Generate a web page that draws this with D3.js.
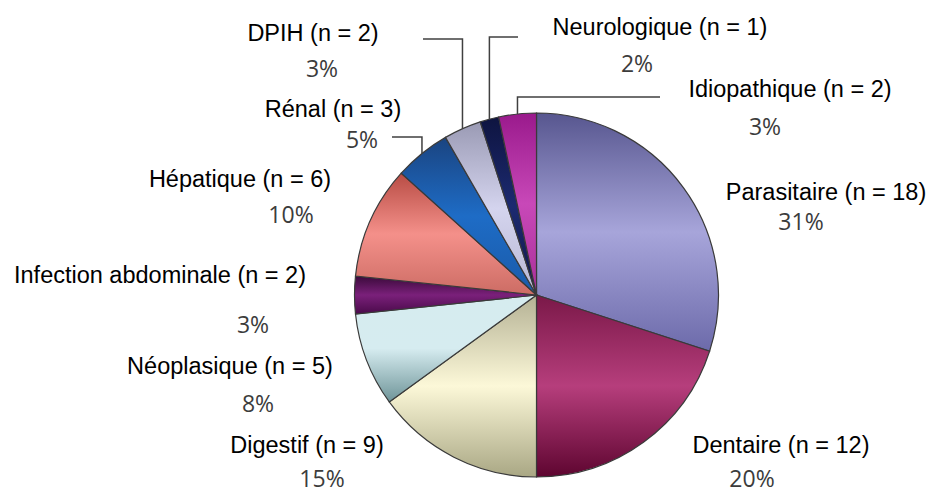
<!DOCTYPE html>
<html>
<head>
<meta charset="utf-8">
<script src="https://cdn.jsdelivr.net/npm/d3@7"></script>
<style>
  body { margin: 0; background: #fff; }
  .name { font-family: "Liberation Sans", Arial, sans-serif; font-size: 23.5px; fill: #000; }
  .pct { font-family: "Open Sans", sans-serif; font-size: 23px; fill: #3c3c3c; }
</style>
</head>
<body>
<div id="chart"></div>
<script>
// data
var categories = ["Parasitaire", "Dentaire", "Digestif", "Néoplasique", "Infection abdominale",
  "Hépatique", "Rénal", "DPIH", "Neurologique", "Idiopathique"];
var counts = [18, 12, 9, 5, 2, 6, 3, 2, 1, 2];
var pctLabels = ["31%", "20%", "15%", "8%", "3%", "10%", "5%", "3%", "2%", "3%"];

// slice shading: top, middle, bottom
var sliceColors = [
  ["#57568f", "#a7a5da", "#6c6aaa"],
  ["#7a1848", "#b63e7c", "#5e0530"],
  ["#b4b194", "#fcf8d8", "#a9a784"],
  ["#d6ecef", "#d6ecf0", "#6e9498"],
  ["#3a0a3a", "#7a207a", "#4a0a4a"],
  ["#b84c44", "#f4908a", "#cc6c64"],
  ["#1a4480", "#1e6cc6", "#1a5aa8"],
  ["#9a9ab4", "#d4d4ee", "#b8b8d4"],
  ["#0e1440", "#1c2a70", "#101848"],
  ["#9a1a8c", "#c848b8", "#a83098"]
];

// label placement: [nameX, nameY, pctX, pctY]
var labelPos = [
  [826, 200, 801, 230],
  [781, 453, 752, 487],
  [307, 453, 322, 487],
  [230, 374, 258, 412],
  [160, 283, 253, 333],
  [240, 187, 291, 223],
  [333, 117, 362, 148],
  [313, 41, 322, 77],
  [660, 35, 637, 72],
  [790, 97, 765, 135]
];
// leader lines for small slices: [slice index, elbow y, end x]
var leaders = [[6, 137, 392], [7, 39, 423], [8, 37, 518], [9, 97, 660]];

var svgWidth = 931;
var svgHeight = 493;
var cx = 536.5, cy = 295, radius = 182;

var svg = d3.select("#chart")
  .append("svg")
  .attr("width", svgWidth)
  .attr("height", svgHeight);

// gradients
var defs = svg.append("defs");
sliceColors.forEach(function(c, i) {
  var g = defs.append("linearGradient")
    .attr("id", "grad" + i)
    .attr("x1", 0).attr("y1", 0).attr("x2", 0).attr("y2", 1);
  g.append("stop").attr("offset", "0%").attr("stop-color", c[0]);
  g.append("stop").attr("offset", "50%").attr("stop-color", c[1]);
  g.append("stop").attr("offset", "100%").attr("stop-color", c[2]);
});

var pie = d3.pie().sort(null).value(d => d);
var arcs = pie(counts);

var arc = d3.arc().innerRadius(0).outerRadius(radius);
var edgeArc = d3.arc().innerRadius(radius).outerRadius(radius);

var pieGroup = svg.append("g")
  .attr("transform", `translate(${cx}, ${cy})`);

pieGroup.selectAll("path")
  .data(arcs)
  .enter()
  .append("path")
  .attr("d", arc)
  .attr("fill", (d, i) => `url(#grad${i})`)
  .attr("stroke", "#3a3a3a")
  .attr("stroke-width", 1.2);

// leader lines
leaders.forEach(function(l) {
  var p = edgeArc.centroid(arcs[l[0]]);
  var x0 = cx + p[0], y0 = cy + p[1];
  svg.append("path")
    .attr("d", `M${x0},${y0}L${x0},${l[1]}L${l[2]},${l[1]}`)
    .attr("fill", "none")
    .attr("stroke", "#404040")
    .attr("stroke-width", 1.5);
});

// labels
categories.forEach(function(name, i) {
  var p = labelPos[i];
  svg.append("text")
    .attr("class", "name")
    .attr("x", p[0])
    .attr("y", p[1])
    .attr("text-anchor", "middle")
    .text(`${name} (n = ${counts[i]})`);
  svg.append("text")
    .attr("class", "pct")
    .attr("x", p[2])
    .attr("y", p[3])
    .attr("text-anchor", "middle")
    .text(pctLabels[i]);
});
</script>
</body>
</html>
